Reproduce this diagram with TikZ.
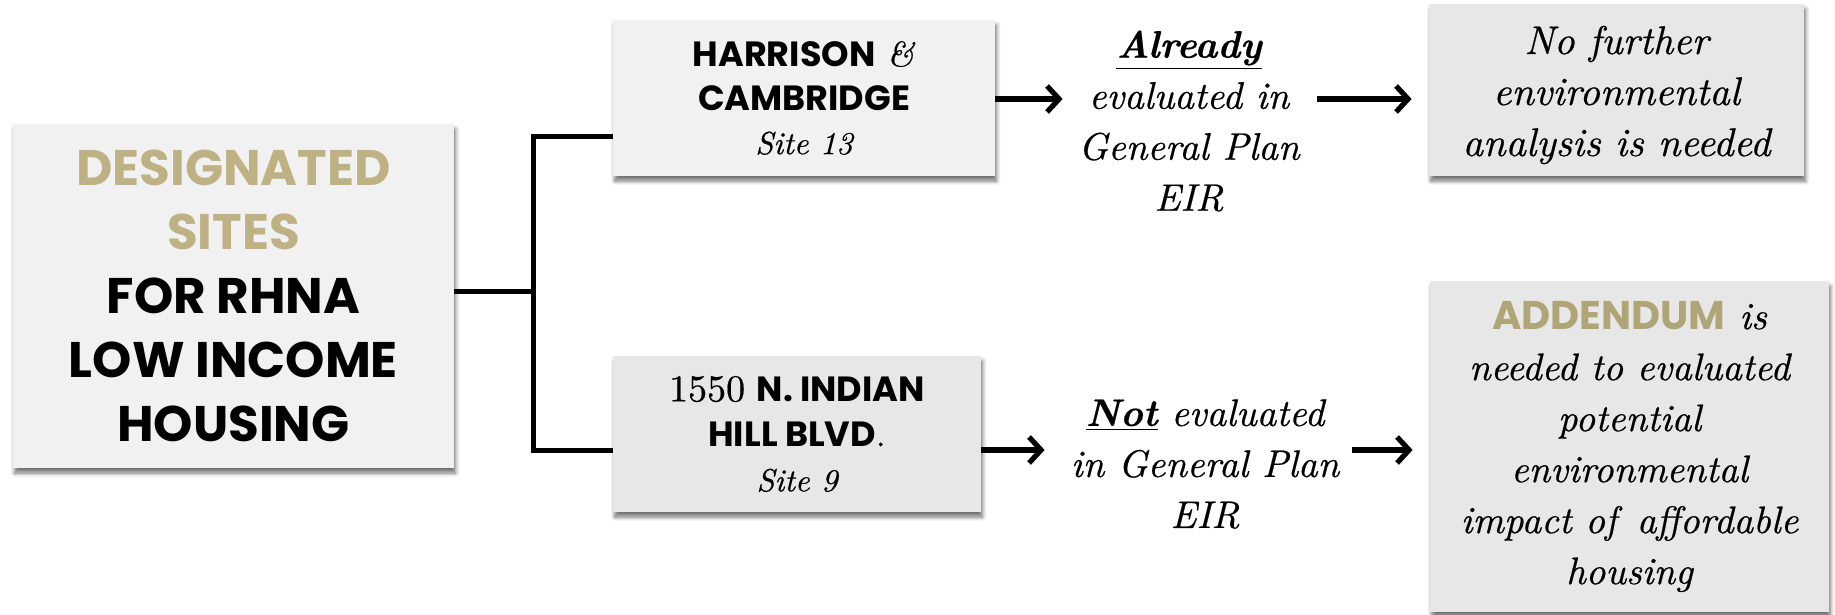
\documentclass[tikz,border=0pt]{standalone}
\usepackage{fontspec}
\setmainfont{lmroman10}[Extension=.otf, UprightFont=*-regular, ItalicFont=*-italic,
  BoldFont=*-bold, BoldItalicFont=*-bolditalic, FakeBold=0.5]
\newfontfamily\geo{Poppins}
\usetikzlibrary{arrows.meta,shadows.blur}
\definecolor{gold}{RGB}{190,178,132}
\definecolor{golddark}{RGB}{176,165,118}
\definecolor{paleA}{RGB}{241,241,241}
\definecolor{paleB}{RGB}{231,231,231}
\newcommand{\caps}[1]{{\geo\bfseries #1}}
\begin{document}
\begin{tikzpicture}[x=0.5pt,y=-0.5pt,
  card/.style={fill=#1, draw=none, inner sep=0pt, align=center,
    blur shadow={shadow xshift=0.8pt, shadow yshift=-2.5pt, shadow blur steps=6,
      shadow blur radius=2pt, shadow opacity=55}},
  note/.style={inner sep=0pt, align=center},
  conn/.style={line width=2.5pt},
  arr/.style={line width=2.6pt, -{Straight Barb[length=6pt, width=13pt, line width=2.6pt]}}]
\useasboundingbox (0,0) rectangle (1835,615);

% source box
\node[card=paleA, minimum width=220.5pt, minimum height=172pt,
      font={\fontsize{25}{32}\selectfont\geo\bfseries}] (src) at (233.5,296)
  {\textcolor{gold}{DESIGNATED}\\\textcolor{gold}{SITES}\\FOR RHNA\\LOW INCOME\\HOUSING};

% the two sites
\node[card=paleA, minimum width=191pt, minimum height=78pt,
      font={\fontsize{17.5}{22}\selectfont}] (h) at (804,98)
  {\caps{HARRISON} \textit{\&}\\\caps{CAMBRIDGE}\\{\fontsize{16}{22}\selectfont\itshape Site 13}};
\node[card=paleB, minimum width=184pt, minimum height=78pt,
      font={\fontsize{17.5}{22.5}\selectfont}] (i) at (797,434)
  {{\fontsize{19}{22.5}\selectfont 1550} \caps{N. INDIAN}\\\caps{HILL BLVD}.\\{\fontsize{16}{22.5}\selectfont\itshape Site 9}};

% evaluation status
\node[note, minimum width=126pt, font={\fontsize{19.2}{25.5}\selectfont\itshape}] (ta) at (1189,121)
  {\underline{\textbf{Already}}\\evaluated in\\General Plan\\EIR};
\node[note, minimum width=160pt, font={\fontsize{19.2}{25.5}\selectfont\itshape}] (tb) at (1205,464)
  {\underline{\textbf{Not}} evaluated\\in General Plan\\EIR};

% outcomes
\node[card=paleB, minimum width=187.5pt, minimum height=86pt] (oa) at (1616.5,90) {};
\node[note, font={\fontsize{20}{25.5}\selectfont\itshape}] (oat) at (oa.center)
  [yshift=-2.5pt] {No further\\environmental\\analysis is needed};
\node[card=paleB, minimum width=199.5pt, minimum height=165.5pt,
      font={\fontsize{19.2}{25.5}\selectfont\itshape}] (ob) at (1629.5,446.5)
  {{\fontsize{20}{25.5}\selectfont\geo\bfseries\upshape\textcolor{golddark}{ADDENDUM}} is\\
   needed to evaluated\\potential\\environmental\\impact of\, affordable\\housing};

% branch lines
\coordinate (jmid) at (533,291);
\coordinate (jtop) at (533,136);
\coordinate (jbot) at (533,450);
\coordinate (ra) at (0,99);
\coordinate (rb) at (0,450);
\draw[conn] (src.east |- jmid) -- (jmid);
\draw[conn, line join=miter] (h.west |- jtop) -- (jtop) -- (jbot) -- (i.west |- jbot);

% arrows
\draw[arr] (h.east |- ra) -- (ta.west |- ra);
\draw[arr, shorten <=1pt, shorten >=8.5pt] (ta.east |- ra) -- (oa.west |- ra);
\draw[arr] (i.east |- rb) -- (tb.west |- rb);
\draw[arr, shorten <=-6.5pt, shorten >=8.5pt] (tb.east |- rb) -- (ob.west |- rb);
\end{tikzpicture}
\end{document}
